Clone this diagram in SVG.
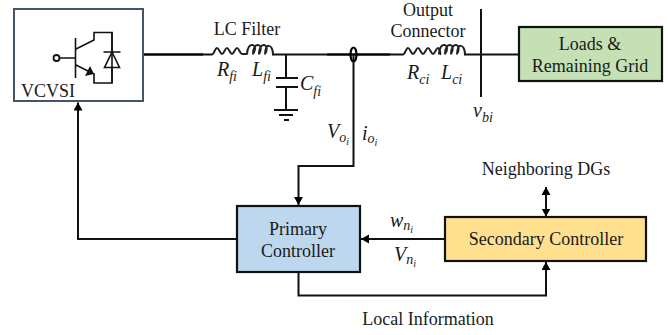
<svg xmlns="http://www.w3.org/2000/svg" width="668" height="335" viewBox="0 0 668 335">
<defs>
<marker id="arr" markerUnits="userSpaceOnUse" markerWidth="9" markerHeight="10" refX="8" refY="4.500" orient="auto-start-reverse"><path d="M0 0L8 4.500L0 9Z" fill="#000"/></marker>
</defs>
<style>
text{font-family:"Liberation Serif",serif;font-size:18px;fill:#1a1a1a}
.c{text-anchor:middle}
.m{font-style:italic;font-size:20px}
.s{font-size:14px}
.u{font-size:10px}
.w{fill:none;stroke:#222;stroke-width:2}
.t{fill:none;stroke:#000;stroke-width:2.5}
.k{fill:none;stroke:#111;stroke-width:2}
.b{stroke:#111;stroke-width:2.2}
</style>
<rect width="668" height="335" fill="#fff"/>
<g id="connectors">
<path class="t" d="M143 54.500H203"/>
<path class="k" d="M203 54.500H212M272 54.500H327"/>
<path class="t" d="M327 54.500H390"/>
<path class="k" d="M390 54.500H403M464 54.500H519"/>
<ellipse cx="353.500" cy="54.500" rx="3" ry="7" fill="none" stroke="#000" stroke-width="2.200"/>
<path class="k" d="M353.500 54.500V166H298.500V205" marker-end="url(#arr)"/>
<path class="k" d="M237 239H78V102.500" marker-end="url(#arr)"/>
<path class="k" d="M445 239H361" marker-end="url(#arr)"/>
<path class="k" d="M298.500 272V295.500H546V262" marker-end="url(#arr)"/>
<path class="k" d="M546 187V216.500" marker-start="url(#arr)" marker-end="url(#arr)"/>
<path d="M481 9V97" stroke="#111" stroke-width="2" fill="none"/>
</g>
<g id="vcvsi">
<rect x="14" y="9" width="129" height="92" fill="#fff" stroke="#44546a" stroke-width="2"/>
<path d="M59 58H75M75.500 38V78M76 49L94 40V32.500H112V83H94V73M76 65L92 73" fill="none" stroke="#111" stroke-width="1.600"/>
<circle cx="56.500" cy="58" r="3" fill="#fff" stroke="#111" stroke-width="1.800"/>
<path d="M94 74L85 76L90 66Z" fill="#111"/>
<path d="M112 32.500V52L104.500 67.500H119.500L112 52M103.500 52H120.500M112 67.500V83" fill="none" stroke="#111" stroke-width="1.600"/>
<text x="21" y="97">VCVSI</text>
</g>
<g id="lc-filter">
<text class="c" x="247" y="35">LC Filter</text>
<path class="w" d="M212 54.500C214 54.500 215 48 217 48S220 54 222 54S225 48 227 48S230 54 232 54S235 48 237 48S240 54 242 54H247"/>
<path class="w" d="M247 54.500C247 40 260 44 253 54M253 54.500C253 40 265 44 259 54M259 54.500C259 40 271 44 265 54M265 54.500C265 42 273 44 273 54.500"/>
<path class="k" d="M286 54.500V78M276 78H298M276 87H298M286 87V110M274 110H298M279 115H293M284 120H289"/>
<text x="217" y="76" class="m">R<tspan class="s" dy="5">fi</tspan></text>
<text x="252" y="76" class="m">L<tspan class="s" dy="5">fi</tspan></text>
<text x="300" y="90" class="m">C<tspan class="s" dy="6">fi</tspan></text>
</g>
<g id="feedback-labels">
<text x="327" y="138" class="m">V<tspan class="s" dy="4">o</tspan><tspan class="u" dy="3">i</tspan></text>
<text x="362" y="140" class="m">i<tspan class="s" dy="3">o</tspan><tspan class="u" dy="3">i</tspan></text>
</g>
<g id="output-connector">
<text class="c" x="428" y="16">Output</text>
<text class="c" x="428" y="37">Connector</text>
<path class="w" d="M403 54.500C405 54.500 406 48 408 48S411 54 413 54S416 48 418 48S421 54 423 54S426 48 428 48S431 54 433 54S436 48 438 48S440 54 441 54.500"/>
<path class="w" d="M439 54.500C439 40 452 44 445 54M445 54.500C445 40 457 44 451 54M451 54.500C451 40 463 44 457 54M457 54.500C457 42 465 44 465 54.500"/>
<text x="407" y="79" class="m">R<tspan class="s" dy="5">ci</tspan></text>
<text x="441" y="79" class="m">L<tspan class="s" dy="5">ci</tspan></text>
<text x="473" y="117" class="m">v<tspan class="s" dy="5">bi</tspan></text>
</g>
<g id="loads">
<rect x="519" y="27" width="143" height="54" fill="#c5e0b4" class="b"/>
<text class="c" x="590" y="50">Loads &amp;</text>
<text class="c" x="590" y="72">Remaining Grid</text>
</g>
<g id="primary">
<rect x="237" y="206" width="123" height="66" fill="#bdd7ee" class="b"/>
<text class="c" x="298" y="235">Primary</text>
<text class="c" x="298" y="257">Controller</text>
</g>
<g id="secondary">
<rect x="445" y="217" width="201" height="44" fill="#ffe08f" class="b"/>
<text class="c" x="546" y="245">Secondary Controller</text>
</g>
<text class="c" x="546" y="175">Neighboring DGs</text>
<text class="c" x="428" y="325">Local Information</text>
<text x="390" y="227" class="m">w<tspan class="s" dy="3">n</tspan><tspan class="u" dy="3">i</tspan></text>
<text x="394" y="261" class="m">V<tspan class="s" dy="3">n</tspan><tspan class="u" dy="3">i</tspan></text>
</svg>
